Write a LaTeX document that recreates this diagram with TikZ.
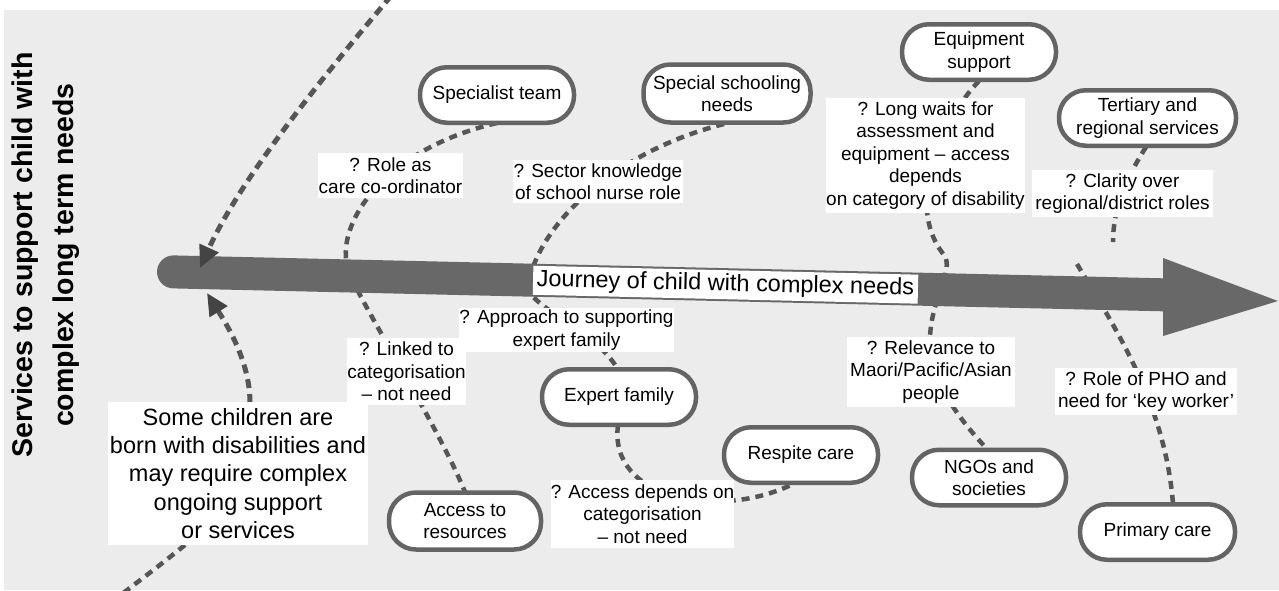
\documentclass[tikz,border=0pt]{standalone}
\usepackage{fontspec}
\setmainfont{Liberation Sans}
\usetikzlibrary{arrows.meta}
\definecolor{bggray}{RGB}{236,236,236}
\definecolor{barcol}{RGB}{104,104,104}
\definecolor{dashcol}{RGB}{86,86,86}
\definecolor{bordercol}{RGB}{100,100,100}
\definecolor{arrowcol}{RGB}{68,68,68}
\newcommand\svcfont{\fontsize{19}{22.5}\selectfont}
\newcommand\bornfont{\fontsize{23.5}{28.3}\selectfont}
\begin{document}
\begin{tikzpicture}[x=1pt,y=-1pt,
  svc/.style={draw=bordercol, line width=4.5pt, fill=white, rounded corners=27pt,
    align=center, inner sep=0pt, font=\svcfont, minimum height=55.5pt, text=black},
  note/.style={fill=white, inner sep=0pt, align=center, font=\svcfont, text=black},
  conn/.style={draw=dashcol, line width=4.5pt, dash pattern=on 8pt off 6pt},
  bigarr/.style={draw=dashcol, line width=5pt, dash pattern=on 9pt off 6pt,
    -{Triangle[length=22pt,width=20pt,fill=arrowcol,color=arrowcol]}}
]
\useasboundingbox (0,0) rectangle (1279,590);
\clip (0,0) rectangle (1279,590);
\fill[white] (0,0) rectangle (1279,590);
\fill[bggray] (4,10) rectangle (1279,590);

% title
\node[rotate=90, align=center, font=\bfseries\fontsize{28.5}{41}\selectfont, text=black]
  (title) at (46,255) {Services to support child with\\complex long term needs};

% coordinates for free ends
\coordinate (topsrc) at (391,-4);
\coordinate (tipA) at (200,268);
\coordinate (tipB) at (207,293);
\coordinate (offB) at (118,597);
\coordinate (d1) at (1113,242);
\coordinate (d2) at (1077,264);

% ---- connectors behind everything
\draw[conn] (497,123) .. controls (380,150) and (330,230) .. (350,275)
  .. controls (368,315) and (440,430) .. (465,492);
\draw[conn] (724,124) .. controls (620,150) and (540,220) .. (528,285)
  .. controls (525,305) and (595,330) .. (617,368);
\draw[conn] (979,81) .. controls (950,110) and (900,200) .. (944,255)
  .. controls (955,270) and (930,300) .. (930,340)
  .. controls (930,385) and (965,425) .. (987,449);
\draw[conn] (1146,147) .. controls (1125,180) and (1113,210) .. (d1);
\draw[conn] (d2) .. controls (1110,320) and (1165,400) .. (1173,504);
\draw[conn] (618,425) .. controls (608,500) and (720,520) .. (793,484);
\draw[conn] (185,545) .. controls (160,565) .. (offB);

% ---- journey bar
\draw[barcol, line width=33pt, line cap=round] (173.5,271.9) -- (1163,294.8);
\fill[barcol] (1163,258) -- (1278,301) -- (1163,336) -- cycle;
\node[fill=white, rotate=-1.33, minimum width=385pt, minimum height=29pt, inner sep=0pt,
  font=\fontsize{23.5}{28}\selectfont, text=black] (journey) at (725.5,284.7)
  {Journey of child with complex needs};

% ---- big dashed arrows
\draw[bigarr] (topsrc) .. controls (320,80) and (240,180) .. (tipA);
\draw[bigarr] (250,403) .. controls (250,360) and (225,322) .. (tipB);

% ---- labels
\node[note, minimum width=145pt, minimum height=45pt] (la) at (390.5,175.5) {? Role as\\care co-ordinator};
\node[note, minimum width=170pt, minimum height=43pt] (lb) at (598,181.5) {? Sector knowledge\\of school nurse role};
\node[note, minimum width=199pt, minimum height=115pt] (lc) at (925.5,155.5) {? Long waits for\\assessment and\\equipment – access\\depends\\on category of disability};
\node[note, minimum width=181pt, minimum height=47pt] (ld) at (1122.5,193.5) {? Clarity over\\regional/district roles};
\node[note, minimum width=117pt, minimum height=67pt] (le) at (406.5,371.5) {? Linked to\\categorisation\\– not need};
\node[note, minimum width=213pt, minimum height=44pt] (lf) at (566.5,330) {? Approach to supporting\\expert family};
\node[note, minimum width=181pt, minimum height=68pt] (lg) at (642.5,514) {? Access depends on\\categorisation\\– not need};
\node[note, minimum width=168pt, minimum height=70pt] (lh) at (931,372) {? Relevance to\\Maori/Pacific/Asian\\people};
\node[note, minimum width=182pt, minimum height=47pt] (li) at (1146,391.5) {? Role of PHO and\\need for ‘key worker’};
\node[note, font=\bornfont, minimum width=260pt, minimum height=143pt] (born) at (238,473.5) {Some children are\\born with disabilities and\\may require complex\\ongoing support\\or services};

% ---- service nodes
\node[svc, minimum width=154pt] (spec) at (497,95) {Specialist team};
\node[svc, minimum width=167pt, minimum height=58pt] (school) at (727,93.5) {Special schooling\\needs};
\node[svc, minimum width=154pt] (equip) at (979,52) {Equipment\\support};
\node[svc, minimum width=177pt] (tert) at (1147.5,118) {Tertiary and\\regional services};
\node[svc, minimum width=152pt, minimum height=57pt] (access) at (465,521) {Access to\\resources};
\node[svc, minimum width=154pt] (expert) at (619,397) {Expert family};
\node[svc, minimum width=154pt] (respite) at (801,455) {Respite care};
\node[svc, minimum width=154pt] (ngo) at (989,477.5) {NGOs and\\societies};
\node[svc, minimum width=155pt] (primary) at (1157.5,532) {Primary care};
\end{tikzpicture}
\end{document}
